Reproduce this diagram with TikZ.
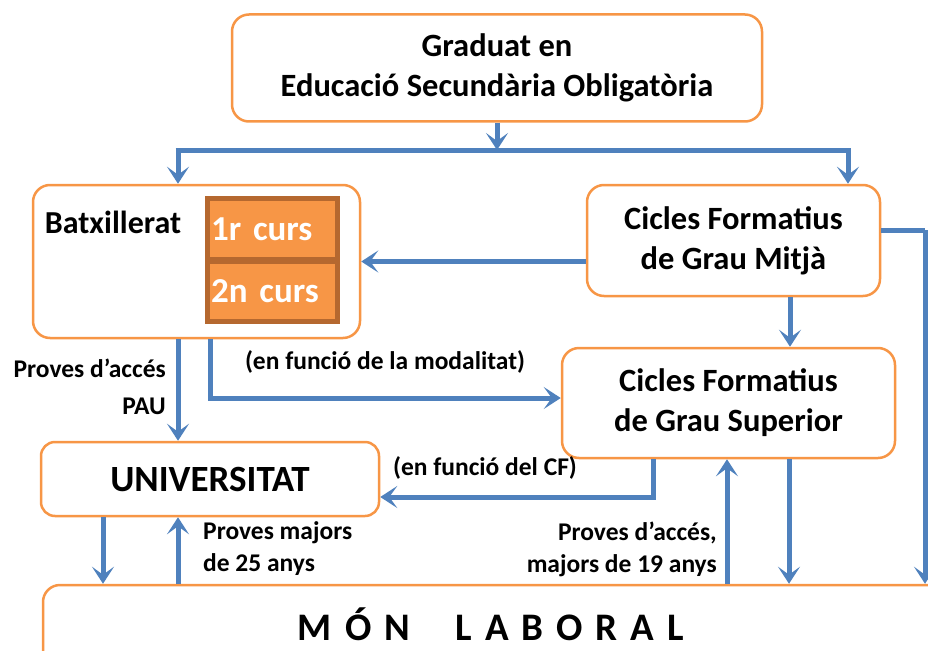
\documentclass[tikz,border=0pt]{standalone}
\usepackage{fontspec}
\setmainfont{Carlito}
\usetikzlibrary{arrows.meta,calc}
\definecolor{boxorange}{HTML}{F79646}
\definecolor{cellbrown}{HTML}{B5682F}
\definecolor{arrblue}{HTML}{4F81BD}
\tikzset{
  box/.style={draw=boxorange, line width=2.5pt, rounded corners=17pt, fill=white,
    align=center, inner sep=0pt, font=\bfseries\fontsize{32.5}{40}\selectfont},
  conn/.style={draw=arrblue, line width=5pt},
  arr/.style={conn, -{Stealth[length=17pt,width=22pt,inset=8pt]}},
  lbl/.style={inner sep=0pt, font=\bfseries\fontsize{25.5}{32}\selectfont},
  cell/.style={fill=boxorange, inner sep=0pt, anchor=west, text=white,
    font=\bfseries\fontsize{35}{40}\selectfont}
}
\begin{document}
\begin{tikzpicture}[x=1pt,y=-1pt]
\useasboundingbox (0,0) rectangle (928,650);
% boxes
\node[box, minimum width=530pt, minimum height=107pt] (top) at (497,68)
  {Graduat en\\Educació Secundària Obligatòria};
\node[box, minimum width=327pt, minimum height=153pt] (batx) at (196.5,261.5) {};
\node[lbl, font=\bfseries\fontsize{32}{36}\selectfont] (batxlbl) at (113,222) {Batxillerat};
\node[box, minimum width=293pt, minimum height=111pt] (cfgm) at (733.5,240.5)
  {Cicles Formatius\\de Grau Mitjà};
\node[box, minimum width=333pt, minimum height=110pt] (cfgs) at (728.5,403)
  {Cicles Formatius\\de Grau Superior};
\node[box, minimum width=338pt, minimum height=74pt, rounded corners=14pt,
  font=\bfseries\fontsize{37}{42}\selectfont] (univ) at (210,479) {UNIVERSITAT};
\node[box, minimum width=907pt, minimum height=95pt] (mon) at (496.5,632.5) {};
\node[inner sep=0pt, font=\bfseries\fontsize{39}{40}\selectfont] (montxt) at (491,624)
  {M\,\,Ó\,\,N\quad\,L\,\,A\,\,B\,\,O\,\,R\,\,A\,\,L};
% courses
\fill[cellbrown] (205,196) rectangle (340,324);
\node[cell, minimum width=125pt, minimum height=56pt, text width=123pt] (c1) at (210,229) {1r curs};
\node[cell, minimum width=125pt, minimum height=55pt, text width=123pt] (c2) at (210,291.5) {2n curs};
% coordinates
\coordinate (bar) at (497,150);
\coordinate (barL) at (178,150);
\coordinate (barR) at (848,150);
\coordinate (modA) at (210,398);
\coordinate (cfA) at (653,497);
\coordinate (rgtA) at (925,230);
% connectors
\draw[arr] (top.south) -- (bar);
\draw[conn] ([xshift=-2.5pt]barL) -- ([xshift=2.5pt]barR);
\draw[arr] (barL) -- (barL |- batx.north);
\draw[arr] (barR) -- (barR |- cfgm.north);
\draw[arr] (cfgm.west |- batx.east) -- (batx.east);
\draw[arr] (cfgm.south -| 790,0) -- (cfgs.north -| 790,0);
\draw[arr] (batx.south -| barL) -- (univ.north -| barL);
\draw[arr] (batx.south -| modA) -- (modA) -- (modA -| cfgs.west);
\draw[arr] (cfgs.south -| cfA) -- (cfA) -- (cfA -| univ.east);
\draw[conn] (cfgm.east |- rgtA) -- (rgtA);
\draw[arr] (rgtA) -- (rgtA |- mon.north);
\draw[arr] (univ.south -| 103,0) -- (mon.north -| 103,0);
\draw[arr] (mon.north -| barL) -- (univ.south -| barL);
\draw[arr] (mon.north -| 727,0) -- (cfgs.south -| 727,0);
\draw[arr] (cfgs.south -| 789,0) -- (mon.north -| 789,0);
% labels
\node[lbl, align=right, anchor=east, font=\bfseries\fontsize{25.5}{37}\selectfont] (pau) at (166,387) {Proves d’accés\\PAU};
\node[lbl] (modl) at (385,362) {(en funció de la modalitat)};
\node[lbl] (cfl) at (485,468) {(en funció del CF)};
\node[lbl, align=left, anchor=west] (m25) at (203,549) {Proves majors\\de 25 anys};
\node[lbl, align=right, anchor=east] (m19) at (717,549) {Proves d’accés,\\majors de 19 anys};
\end{tikzpicture}
\end{document}
